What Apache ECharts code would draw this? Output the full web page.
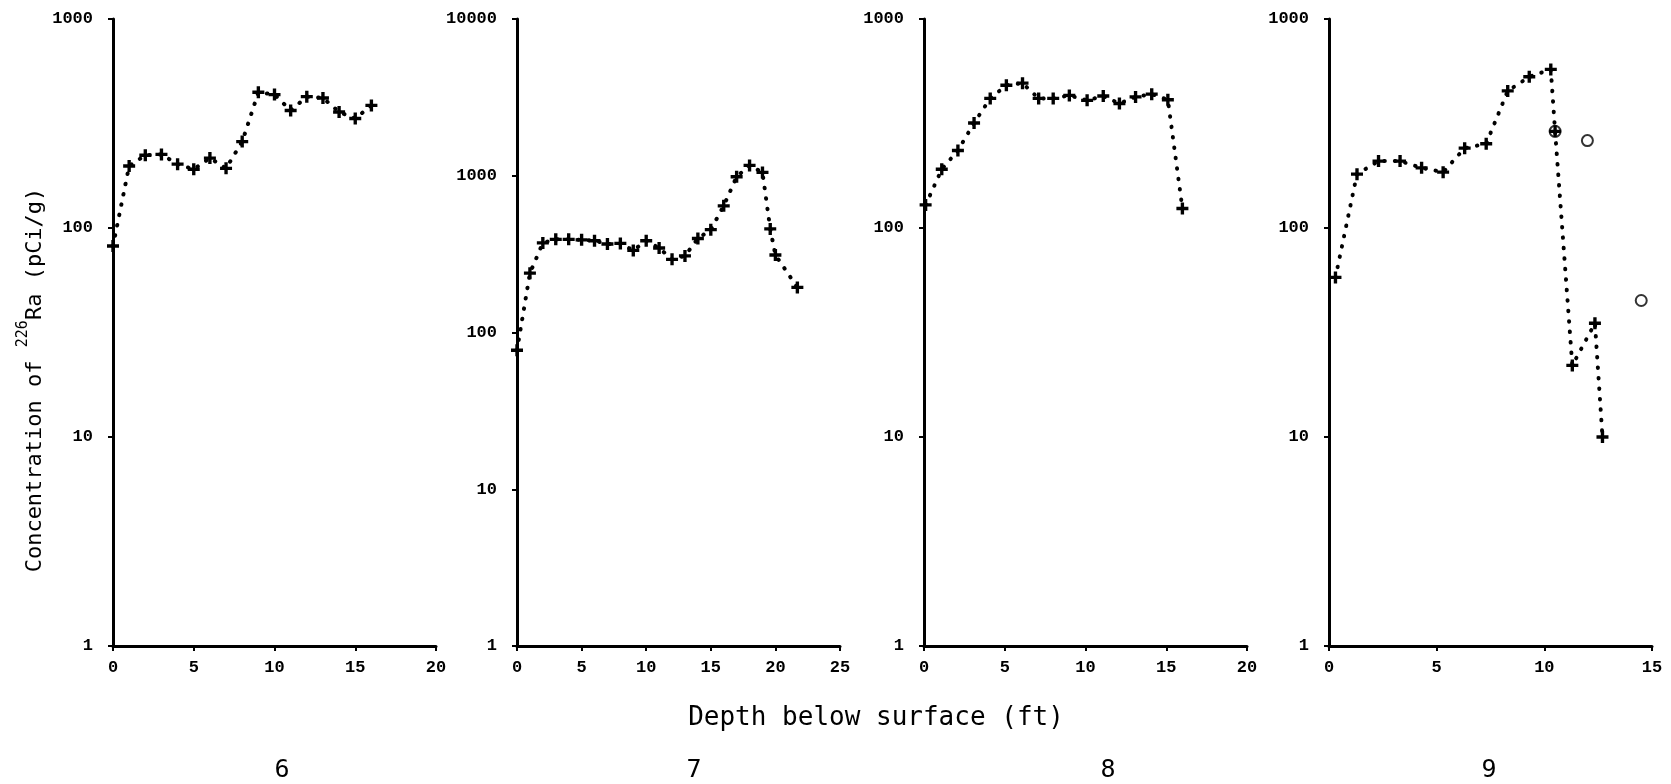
<!DOCTYPE html>
<html>
<head>
<meta charset="utf-8">
<script src="https://cdn.jsdelivr.net/npm/echarts@6/dist/echarts.min.js"></script>
<style>
  html, body { margin: 0; padding: 0; background: #fff; }
  #chart { width: 1671px; height: 784px; }
</style>
</head>
<body>
<div id="chart"></div>
<script>
// core 6
var depth6 = [0, 1, 2, 3, 4, 5, 6, 7, 8, 9, 10, 11, 12, 13, 14, 15, 16]
var conc6 = [82, 198, 223, 225, 202, 191, 216, 193, 259, 446, 435, 365, 425, 419, 359, 334, 386]
// core 7
var depth7 = [0, 1, 2, 3, 4, 5, 6, 7, 8, 9, 10, 11, 12, 13, 14, 15, 16, 17, 18, 19, 19.6, 20, 21.7]
var conc7 = [77, 239, 373, 393, 393, 390, 385, 367, 370, 334, 385, 346, 293, 308, 398, 453, 643, 986, 1164, 1050, 458, 312, 194]
// core 8
var depth8 = [0.1, 1.1, 2.1, 3.1, 4.1, 5.1, 6.1, 7.1, 8, 9, 10.1, 11.1, 12.1, 13.1, 14.1, 15.1, 16]
var conc8 = [129, 191, 235, 318, 417, 482, 493, 417, 417, 431, 408, 428, 394, 424, 437, 411, 124]
// core 9
var depth9 = [0.3, 1.3, 2.3, 3.3, 4.3, 5.3, 6.3, 7.3, 8.3, 9.3, 10.3, 10.5, 11.3, 12.35, 12.7]
var conc9 = [58, 181, 209, 209, 194, 185, 241, 253, 453, 529, 574, 290, 22, 35, 10]
var depth9Open = [10.5, 12.0, 14.5]
var conc9Open = [290, 262, 45]

var panelNames = ['6', '7', '8', '9']
var xMax = [20, 25, 20, 15]
var yMax = [1000, 10000, 1000, 1000]
var gridLeft = [113, 517, 924, 1329]

var crossPath = 'path://M3.6,0H6.4V3.6H10V6.4H6.4V10H3.6V6.4H0V3.6H3.6Z'

function pairs (xs, ys) {
  return xs.map(function (x, i) {
    return [x, ys[i]]
  })
}

var chartDom = document.getElementById('chart')
var myChart = echarts.init(chartDom)

var grids = []
var xAxes = []
var yAxes = []
var tickFont = {
  color: '#000',
  fontFamily: 'Liberation Mono',
  fontWeight: 'bold',
  fontSize: 17
}
var axisLine = { show: true, onZero: false, lineStyle: { color: '#000', width: 3 } }
var axisTick = { show: true, length: 5, lineStyle: { color: '#000', width: 2 } }

for (var i = 0; i < 4; i++) {
  grids.push({ left: gridLeft[i], top: 19, width: 323, height: 627 })
  xAxes.push({
    type: 'value',
    gridIndex: i,
    min: 0,
    max: xMax[i],
    interval: 5,
    axisLine: axisLine,
    axisTick: axisTick,
    splitLine: { show: false },
    axisLabel: Object.assign({ margin: 13 }, tickFont)
  })
  yAxes.push({
    type: 'log',
    logBase: 10,
    gridIndex: i,
    min: 1,
    max: yMax[i],
    axisLine: axisLine,
    axisTick: axisTick,
    splitLine: { show: false },
    axisLabel: Object.assign({
      margin: 20,
      formatter: function (v) {
        return String(Math.round(v))
      }
    }, tickFont)
  })
}

var lineData = [pairs(depth6, conc6), pairs(depth7, conc7), pairs(depth8, conc8), pairs(depth9, conc9)]
var series = lineData.map(function (d, i) {
  return {
    type: 'line',
    xAxisIndex: i,
    yAxisIndex: i,
    data: d,
    symbol: crossPath,
    symbolSize: 12,
    showSymbol: true,
    itemStyle: { color: '#000' },
    lineStyle: { color: '#000', width: 4, type: [0.5, 10], cap: 'round' }
  }
})
series.push({
  type: 'scatter',
  xAxisIndex: 3,
  yAxisIndex: 3,
  data: pairs(depth9Open, conc9Open),
  symbol: 'emptyCircle',
  symbolSize: 11,
  itemStyle: { color: '#000', borderWidth: 2.5 }
})

var panelX = [282, 694, 1108, 1489]
var graphics = panelNames.map(function (name, i) {
  return {
    type: 'text',
    x: panelX[i],
    y: 770,
    style: {
      text: name,
      fontFamily: 'DejaVu Sans Mono',
      fontSize: 25,
      fill: '#000',
      align: 'center',
      verticalAlign: 'middle'
    }
  }
})
graphics.push({
  type: 'text',
  x: 876,
  y: 718,
  style: {
    text: 'Depth below surface (ft)',
    fontFamily: 'DejaVu Sans Mono',
    fontSize: 26,
    fill: '#000',
    align: 'center',
    verticalAlign: 'middle'
  }
})
graphics.push({
  type: 'text',
  x: 31,
  y: 380,
  rotation: Math.PI / 2,
  style: {
    text: '{a|Concentration of }{b|226}{a|Ra (pCi/g)}',
    fill: '#000',
    align: 'center',
    verticalAlign: 'middle',
    rich: {
      a: { fontFamily: 'DejaVu Sans Mono', fontSize: 22, lineHeight: 30, verticalAlign: 'bottom' },
      b: { fontFamily: 'DejaVu Sans Mono', fontSize: 15, lineHeight: 30, verticalAlign: 'top' }
    }
  }
})

var option = {
  animation: false,
  backgroundColor: '#fff',
  grid: grids,
  xAxis: xAxes,
  yAxis: yAxes,
  series: series,
  graphic: graphics
}

option && myChart.setOption(option)
</script>
</body>
</html>
